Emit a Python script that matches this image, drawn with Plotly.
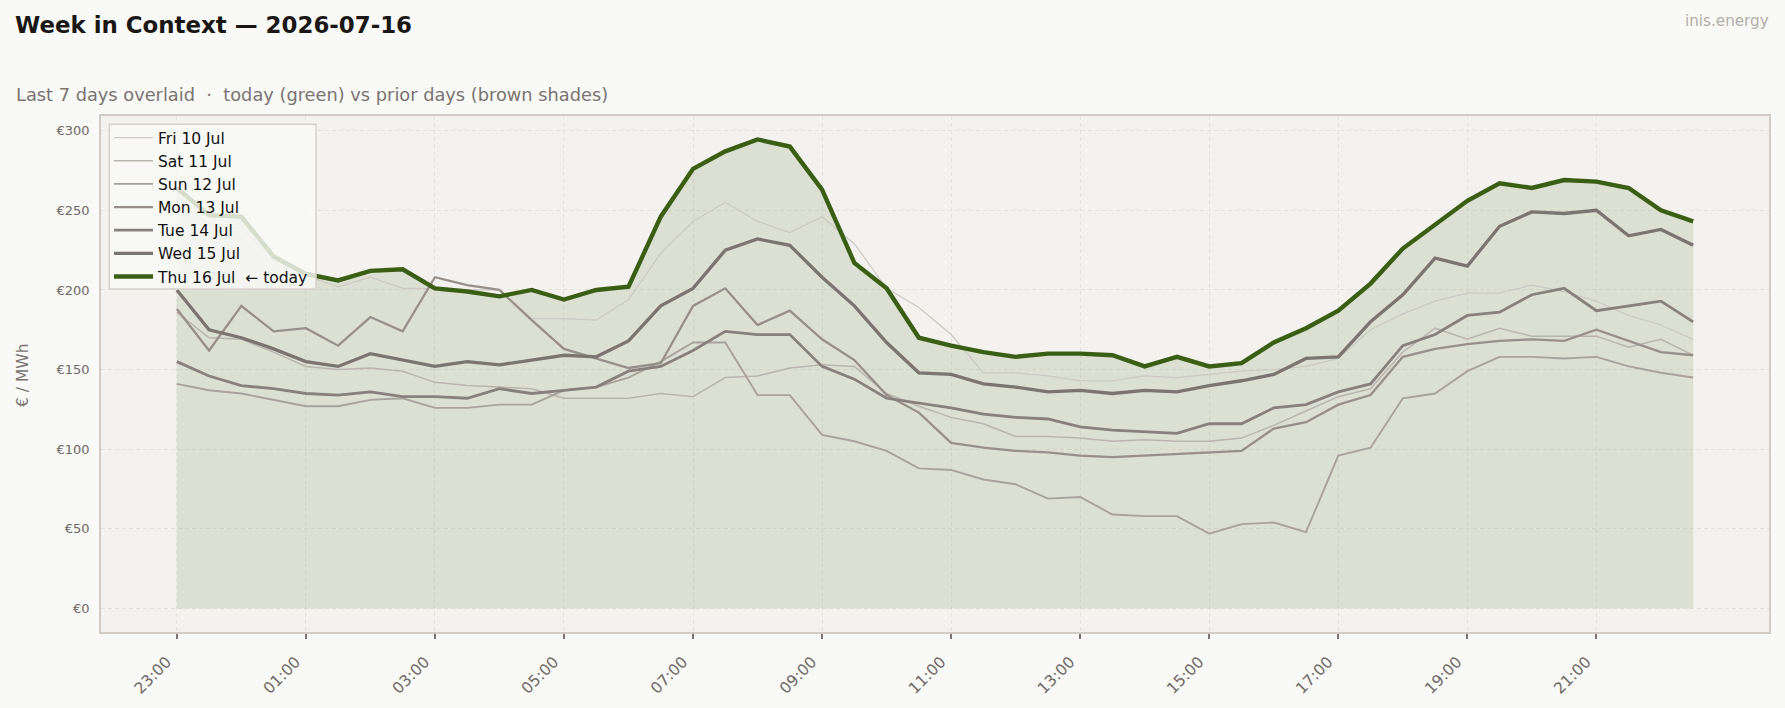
import plotly.graph_objects as go

# ---- data (€/MWh, half-hourly from 23:00 to 22:30) ----
time_labels = ["23:00", "23:30", "00:00", "00:30", "01:00", "01:30", "02:00", "02:30",
               "03:00", "03:30", "04:00", "04:30", "05:00", "05:30", "06:00", "06:30",
               "07:00", "07:30", "08:00", "08:30", "09:00", "09:30", "10:00", "10:30",
               "11:00", "11:30", "12:00", "12:30", "13:00", "13:30", "14:00", "14:30",
               "15:00", "15:30", "16:00", "16:30", "17:00", "17:30", "18:00", "18:30",
               "19:00", "19:30", "20:00", "20:30", "21:00", "21:30", "22:00", "22:30"]

fri_10 = [258, 240, 239, 219, 209, 202, 208, 201, 201, 200, 200, 182,
          182, 181, 194, 223, 243, 255, 243, 236, 246, 229, 201, 189,
          172, 148, 148, 146, 143, 143, 146, 145, 147, 149, 150, 152,
          157, 175, 185, 193, 198, 198, 203, 199, 193, 184, 178, 169]
sat_11 = [186, 170, 169, 161, 152, 150, 151, 149, 142, 140, 139, 138,
          132, 132, 132, 135, 133, 145, 146, 151, 153, 152, 135, 127,
          120, 116, 108, 108, 107, 105, 106, 105, 105, 107, 115, 124,
          133, 138, 161, 176, 169, 176, 171, 171, 171, 164, 169, 159]
sun_12 = [141, 137, 135, 131, 127, 127, 131, 132, 126, 126, 128, 128,
          137, 139, 145, 155, 167, 167, 134, 134, 109, 105, 99, 88,
          87, 81, 78, 69, 70, 59, 58, 58, 47, 53, 54, 48,
          96, 101, 132, 135, 149, 158, 158, 157, 158, 152, 148, 145]
mon_13 = [188, 162, 190, 174, 176, 165, 183, 174, 208, 203, 200, 181,
          163, 157, 151, 154, 190, 201, 178, 187, 169, 156, 134, 123,
          104, 101, 99, 98, 96, 95, 96, 97, 98, 99, 113, 117,
          128, 134, 158, 163, 166, 168, 169, 168, 175, 168, 161, 159]
tue_14 = [155, 146, 140, 138, 135, 134, 136, 133, 133, 132, 138, 135,
          137, 139, 149, 152, 162, 174, 172, 172, 152, 144, 132, 129,
          126, 122, 120, 119, 114, 112, 111, 110, 116, 116, 126, 128,
          136, 141, 165, 172, 184, 186, 197, 201, 187, 190, 193, 180]
wed_15 = [200, 175, 170, 163, 155, 152, 160, 156, 152, 155, 153, 156,
          159, 158, 168, 190, 201, 225, 232, 228, 208, 190, 167, 148,
          147, 141, 139, 136, 137, 135, 137, 136, 140, 143, 147, 157,
          158, 180, 197, 220, 215, 240, 249, 248, 250, 234, 238, 228]
thu_16 = [264, 247, 246, 221, 210, 206, 212, 213, 201, 199, 196, 200,
          194, 200, 202, 246, 276, 287, 294.5, 290, 263, 217, 201, 170,
          165, 161, 158, 160, 160, 159, 152, 158, 152, 154, 167, 176,
          187, 204, 226, 241, 256, 267, 264, 269, 268, 264, 250, 243]

series_names = ["Fri 10 Jul", "Sat 11 Jul", "Sun 12 Jul", "Mon 13 Jul", "Tue 14 Jul", "Wed 15 Jul"]
series_values = [fri_10, sat_11, sun_12, mon_13, tue_14, wed_15]
today_name = "Thu 16 Jul\u00a0\u00a0← today"

y_tick_values = [0, 50, 100, 150, 200, 250, 300]
y_tick_labels = ["€0", "€50", "€100", "€150", "€200", "€250", "€300"]

# ---- styles ----
prior_colors = ["#cdc8c3", "#bab4af", "#a9a19c", "#978f8a", "#87807c", "#7b7471"]
prior_widths = [1.2, 1.5, 1.9, 2.3, 2.8, 3.3]
green = "#3a5f14"
font_family = "DejaVu Sans"

x_idx = list(range(len(time_labels)))

fig = go.Figure()

fig.add_trace(go.Scatter(
    x=x_idx, y=thu_16, mode="lines", fill="tozeroy",
    fillcolor="rgba(58,95,20,0.12)", line=dict(width=0, color="rgba(0,0,0,0)"),
    showlegend=False, hoverinfo="skip"))

for i, (name, vals) in enumerate(zip(series_names, series_values)):
    fig.add_trace(go.Scatter(
        x=x_idx, y=vals, mode="lines", name=name, legendgroup=name,
        line=dict(color=prior_colors[i], width=prior_widths[i])))

fig.add_trace(go.Scatter(
    x=x_idx, y=thu_16, mode="lines", name=today_name, legendgroup="today",
    line=dict(color=green, width=4.4)))

L, R, T, B = 101, 1769, 116, 632
W, H = 1785, 708
pw, ph = R - L, B - T

def px_x(x):
    return (x - L) / pw

def px_y(y):
    return (B - y) / ph

grid_col = "#e5e3de"

fig.update_layout(
    width=W, height=H,
    margin=dict(l=L, r=W - R, t=T, b=H - B, pad=0, autoexpand=False),
    paper_bgcolor="#f9f9f7",
    plot_bgcolor="#f3f2ee",
    font=dict(family=font_family, color="#6f6864", size=14),
    showlegend=True,
    legend=dict(
        x=px_x(109), y=px_y(121), xanchor="left", yanchor="top",
        bgcolor="rgba(0,0,0,0)", borderwidth=0,
        font=dict(family=font_family, size=15.5, color="#111111"),
        tracegroupgap=0, itemwidth=39,
    ),
    shapes=[
        dict(type="rect", xref="paper", yref="paper",
             x0=px_x(109.3), x1=px_x(316), y0=px_y(289), y1=px_y(124.3),
             fillcolor="rgba(249,249,247,0.82)", line=dict(color="#d6d1cb", width=1.5),
             layer="above"),
    ],
    annotations=[
        dict(text="<b>Week in Context — 2026-07-16</b>", xref="paper", yref="paper",
             x=px_x(13), y=px_y(25), xanchor="left", yanchor="middle", showarrow=False,
             font=dict(family=font_family, size=22.9, color="#1a1614")),
        dict(text="Last 7 days overlaid\u00a0\u00a0·\u00a0\u00a0today (green) vs prior days (brown shades)",
             xref="paper", yref="paper",
             x=px_x(14), y=px_y(95), xanchor="left", yanchor="middle", showarrow=False,
             font=dict(family=font_family, size=17.8, color="#7a7370")),
        dict(text="inis.energy", xref="paper", yref="paper",
             x=px_x(1771), y=px_y(21), xanchor="right", yanchor="middle", showarrow=False,
             font=dict(family=font_family, size=15.2, color="#b3aea9")),
        dict(text="€ / MWh", xref="paper", yref="paper", textangle=-90,
             x=px_x(23), y=px_y(376), xanchor="center", yanchor="middle", showarrow=False,
             font=dict(family=font_family, size=15.5, color="#7a7370")),
    ],
)

fig.update_xaxes(
    range=[-2.35, 49.35], automargin=False,
    tickmode="array", tickvals=x_idx[::4], ticktext=time_labels[::4],
    tickangle=-45, ticks="outside", ticklen=5, tickwidth=1.5, tickcolor="#7a7370",
    ticklabelstandoff=8, ticklabelshift=-10,
    tickfont=dict(family=font_family, size=15.5, color="#6f6864"),
    showgrid=True, gridcolor=grid_col, griddash="4px,3px", gridwidth=1,
    zeroline=False, showline=True, mirror=True, linecolor="#d0cbc5", linewidth=1.5,
)
fig.update_yaxes(
    range=[-14.73, 309.2], automargin=False,
    tickmode="array", tickvals=y_tick_values, ticktext=y_tick_labels,
    ticks="", ticklabelstandoff=7,
    tickfont=dict(family=font_family, size=13, color="#6f6864"),
    showgrid=True, gridcolor=grid_col, griddash="4px,3px", gridwidth=1,
    zeroline=False, showline=True, mirror=True, linecolor="#d0cbc5", linewidth=1.5,
)

fig.write_html("out.html")
